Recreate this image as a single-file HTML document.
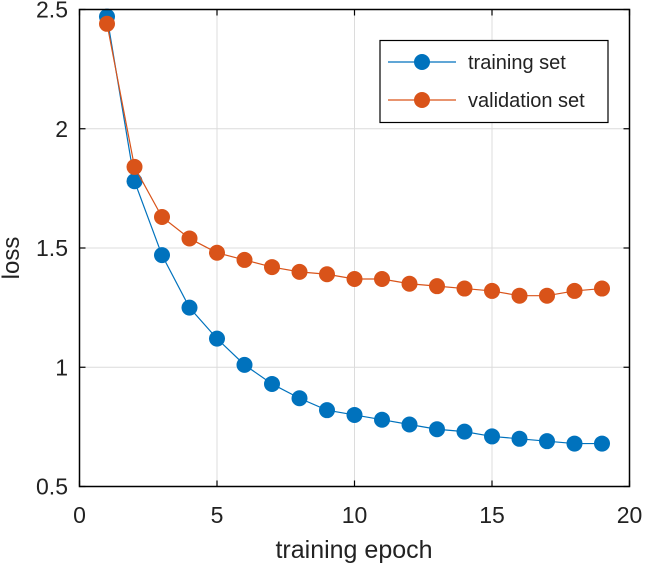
<!DOCTYPE html>
<html><head><meta charset="utf-8"><style>
html,body{margin:0;padding:0;background:#fff;}
svg{display:block;font-family:"Liberation Sans",sans-serif;}
</style></head><body>
<svg id="chart" width="646" height="564">
<g id="grid"></g>
<g id="series"></g>
<rect x="79.5" y="9.5" width="550" height="477" fill="none" stroke="#000" stroke-width="1.5"/>
<g id="ticks"></g>
<text x="354" y="558" font-size="25" text-anchor="middle" fill="#222">training epoch</text>
<text transform="translate(19,258) rotate(-90)" font-size="24" text-anchor="middle" fill="#222">loss</text>
<g>
<rect x="380" y="40.5" width="228" height="82" fill="#fff" stroke="#000" stroke-width="1.2"/>
<g>
<line x1="388" y1="62" x2="456" y2="62" stroke="#0072BD" stroke-width="1.2"/>
<circle cx="422" cy="62" r="8" fill="#0072BD"/>
<text x="468" y="69" font-size="20" fill="#222">training set</text></g>
<g>
<line x1="388" y1="100" x2="456" y2="100" stroke="#D95319" stroke-width="1.2"/>
<circle cx="422" cy="100" r="8" fill="#D95319"/>
<text x="468" y="107" font-size="20" fill="#222">validation set</text></g>
</g>
</svg>
<script>
const epochs=[1,2,3,4,5,6,7,8,9,10,11,12,13,14,15,16,17,18,19];
const trainLoss=[2.47,1.78,1.47,1.25,1.12,1.01,0.93,0.87,0.82,0.80,0.78,0.76,0.74,0.73,0.71,0.70,0.69,0.68,0.68];
const valLoss=[2.44,1.84,1.63,1.54,1.48,1.45,1.42,1.40,1.39,1.37,1.37,1.35,1.34,1.33,1.32,1.30,1.30,1.32,1.33];
const xTicks=[0,5,10,15,20];
const yTicks=[0.5,1,1.5,2,2.5];
const yTickLabels=["0.5","1","1.5","2","2.5"];
const NS="http://www.w3.org/2000/svg";
const X0=79.5,X1=629.5,Y0=486.5,Y1=9.5;
function sx(v){return X0+(v-0)/(20-0)*(X1-X0);}
function sy(v){return Y0-(v-0.5)/(2.5-0.5)*(Y0-Y1);}
function mk(tag,attrs,parent){const e=document.createElementNS(NS,tag);for(const k in attrs)e.setAttribute(k,attrs[k]);parent.appendChild(e);return e;}
const grid=document.getElementById('grid'),ticks=document.getElementById('ticks'),series=document.getElementById('series');
xTicks.forEach(t=>{
  const x=sx(t);
  const g=mk('line',{x1:x,x2:x,y1:Y1,y2:Y0,stroke:'#dcdcdc','stroke-width':1},grid);
  
  
  mk('line',{x1:x,x2:x,y1:Y0,y2:Y0-6,stroke:'#000','stroke-width':1.2},ticks);
  mk('line',{x1:x,x2:x,y1:Y1,y2:Y1+6,stroke:'#000','stroke-width':1.2},ticks);
  const l=mk('text',{x:x,y:523,'font-size':23,'text-anchor':'middle',fill:'#222'},ticks);
  l.textContent=String(t);
  
  
});
yTicks.forEach((t,i)=>{
  const y=sy(t);
  const g=mk('line',{x1:X0,x2:X1,y1:y,y2:y,stroke:'#dcdcdc','stroke-width':1},grid);
  
  
  mk('line',{x1:X0,x2:X0+6,y1:y,y2:y,stroke:'#000','stroke-width':1.2},ticks);
  mk('line',{x1:X1,x2:X1-6,y1:y,y2:y,stroke:'#000','stroke-width':1.2},ticks);
  const l=mk('text',{x:68,y:y+8,'font-size':23,'text-anchor':'end',fill:'#222'},ticks);
  l.textContent=yTickLabels[i];
  
  
});
function drawSeries(vals,color,name){
  const pts=epochs.map((e,i)=>sx(e)+','+sy(vals[i])).join(' ');
  const pl=mk('polyline',{points:pts,fill:'none',stroke:color,'stroke-width':1.2},series);
  
  
  epochs.forEach((e,i)=>{
    const c=mk('circle',{cx:sx(e),cy:sy(vals[i]),r:8,fill:color},series);
    
    
  });
}
drawSeries(trainLoss,'#0072BD','training');
drawSeries(valLoss,'#D95319','validation');
</script>
</body></html>
